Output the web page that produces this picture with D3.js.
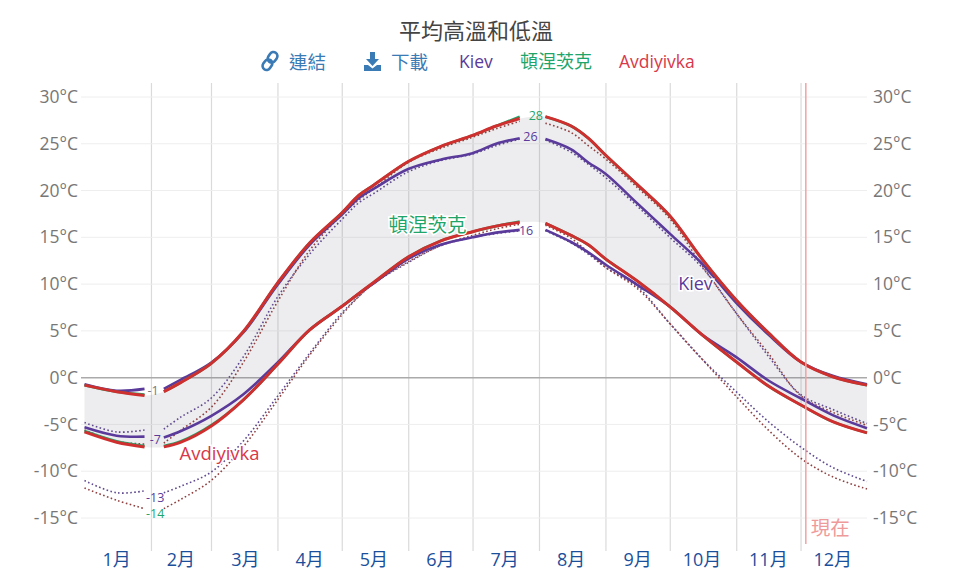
<!DOCTYPE html>
<html>
<head>
<meta charset="utf-8">
<script src="https://cdnjs.cloudflare.com/ajax/libs/d3/7.8.5/d3.min.js"></script>
<style>
  html, body { margin: 0; padding: 0; background: #fff; }
  svg { display: block; }
  text { font-family: "Open Sans", "Noto Sans CJK TC", sans-serif; }
</style>
</head>
<body>
<svg id="chart" width="960" height="579"></svg>
<script>
// day of year for every reading, the null rows are the gaps around the value labels
const days = [0, 15, 28, 32, 37, 45, 59, 74, 90, 105, 120, 128, 135, 151, 166, 181, 192, 203, 209, 215, 227, 235, 243, 258, 273, 288, 304, 319, 334, 349, 365];

const kievHigh = [-0.7, -1.4, -1.2, null, -1.2, -0.2, 1.6, 4.8, 9.9, 14.2, 17.4, 19.2, 20.2, 22.3, 23.3, 24.0, 25.0, 25.6, null, 25.5, 24.4, 23.0, 21.8, 18.6, 15.4, 12.2, 8.0, 4.6, 1.7, 0.2, -0.7];
const kievLow = [-5.3, -6.2, -6.3, null, -6.4, -5.7, -4.1, -1.8, 1.6, 5.1, 7.6, 9.0, 10.1, 12.7, 14.2, 15.0, 15.5, 15.8, null, 15.8, 14.5, 13.4, 12.1, 9.9, 7.6, 4.6, 2.2, -0.3, -2.2, -4.0, -5.4];
const donetskHigh = [-0.8, -1.5, -1.8, null, -1.5, -0.5, 1.5, 4.9, 10.1, 14.4, 17.6, 19.5, 20.6, 23.1, 24.7, 25.9, 26.9, 27.9, null, 27.9, 26.9, 25.6, 23.8, 20.6, 17.3, 12.7, 8.3, 4.8, 1.7, 0.1, -0.8];
const donetskLow = [-5.7, -6.8, -7.3, null, -7.3, -6.8, -5.1, -2.4, 1.4, 5.1, 7.6, 9.0, 10.2, 12.9, 14.6, 15.6, 16.2, 16.7, null, 16.5, 15.2, 14.2, 12.7, 10.3, 7.6, 4.6, 1.7, -0.9, -2.9, -4.7, -5.9];
const avdiyivkaHigh = [-0.8, -1.5, -1.9, null, -1.5, -0.5, 1.5, 4.9, 10.1, 14.4, 17.6, 19.5, 20.6, 23.1, 24.7, 25.9, 26.9, 27.7, null, 27.9, 26.9, 25.6, 23.8, 20.6, 17.3, 12.7, 8.3, 4.8, 1.7, 0.1, -0.8];
const avdiyivkaLow = [-5.8, -6.9, -7.4, null, -7.4, -6.9, -5.2, -2.4, 1.4, 5.1, 7.6, 9.0, 10.2, 12.9, 14.6, 15.6, 16.2, 16.6, null, 16.5, 15.2, 14.2, 12.7, 10.3, 7.6, 4.6, 1.7, -0.9, -2.9, -4.7, -5.9];

// dotted lines
const kievDotHigh = [-4.8, -5.8, -5.6, null, -5.5, -4.2, -2.2, 2.2, 8.6, 13.2, 16.9, 18.7, 19.7, 22.0, 23.2, 23.9, 24.8, 25.5, null, 25.4, 24.1, 22.8, 21.4, 18.3, 15.0, 11.8, 6.9, 2.3, -1.8, -3.4, -4.9];
const kievDotLow = [-11.0, -12.3, -12.1, null, -12.3, -11.6, -10.1, -6.8, -2.0, 2.6, 6.9, 8.7, 10.1, 12.3, 14.1, 15.0, 15.4, 15.7, null, 15.7, 14.4, 13.2, 11.8, 9.7, 5.8, 2.0, -1.5, -4.7, -7.4, -9.6, -11.1];
const avdiyivkaDotHigh = [-5.6, -6.8, -7.1, null, -7.0, -5.6, -3.2, 1.6, 8.1, 13.6, 17.4, 19.0, 20.2, 23.0, 24.5, 25.7, 26.6, 27.4, null, 27.2, 26.2, 24.8, 23.4, 20.3, 17.0, 12.0, 6.9, 2.6, -1.9, -3.7, -5.1];
const avdiyivkaDotLow = [-11.8, -13.1, -14.0, null, -14.0, -13.0, -11.0, -7.4, -2.4, 2.4, 6.7, 8.7, 10.1, 12.4, 14.1, 15.2, 15.9, 16.4, null, 16.3, 14.9, 13.4, 11.8, 9.5, 5.8, 2.0, -2.0, -5.6, -8.6, -10.6, -11.9];

const monthStarts = [31, 59, 90, 120, 151, 181, 212, 243, 273, 304, 334];
const monthCenters = [15, 45, 75, 105, 135, 166, 196, 227, 258, 288, 319, 349];
const monthNames = ["1月", "2月", "3月", "4月", "5月", "6月", "7月", "8月", "9月", "10月", "11月", "12月"];
const tempTicks = [-15, -10, -5, 0, 5, 10, 15, 20, 25, 30];
const nowDay = 336;

const legendNames = ["Kiev", "頓涅茨克", "Avdiyivka"];

// value labels sitting in the line gaps
const calloutDays = [32, 33, 33, 33, 210.5, 208, 206];
const calloutTemps = [-1.4, -6.6, -12.8, -14.5, 28.0, 25.8, 15.7];
const calloutTexts = ["-1", "-7", "-13", "-14", "28", "26", "16"];

const purple = "#5a3a9a", green = "#1fa56a", red = "#cf2f2e";
const calloutColors = ["#777", purple, purple, green, green, purple, purple];

const x = d3.scaleLinear().domain([0, 365]).range([84.5, 867]);
const y = d3.scaleLinear().domain([30, -15]).range([97, 518]);

const svg = d3.select("#chart");

// Axes + grid
const gridX = svg.append("g")
  .attr("transform", "translate(0,551)")
  .call(d3.axisBottom(x).tickValues(monthStarts).tickSize(-468).tickFormat(""));
gridX.select(".domain").remove();
gridX.selectAll("line").attr("stroke", "#dadada").attr("stroke-width", 1.2);

const gridY = svg.append("g")
  .attr("transform", "translate(81,0)")
  .call(d3.axisLeft(y).tickValues(tempTicks).tickSize(0).tickPadding(3).tickFormat(d => d + "°C"));
gridY.select(".domain").remove();
gridY.selectAll("text").attr("fill", "#777").attr("font-size", 17.5);

const gridY2 = svg.append("g")
  .attr("transform", "translate(870,0)")
  .call(d3.axisRight(y).tickValues(tempTicks).tickSize(0).tickPadding(3).tickFormat(d => d + "°C"));
gridY2.select(".domain").remove();
gridY2.selectAll("text").attr("fill", "#777").attr("font-size", 17.5);

svg.append("g").selectAll("line")
  .data(tempTicks)
  .join("line")
  .attr("x1", 81).attr("x2", 867)
  .attr("y1", d => y(d)).attr("y2", d => y(d))
  .attr("stroke", d => d === 0 ? "#aaa" : "#eee")
  .attr("stroke-width", d => d === 0 ? 1.5 : 1);

const curve = d3.curveCatmullRom.alpha(0.5);

// Band between the average high and low
const bandRows = days.map((d, i) => ({ day: d, hi: avdiyivkaHigh[i], lo: avdiyivkaLow[i] })).filter(r => r.hi !== null);
svg.append("path")
  .datum(bandRows)
  .attr("fill", "#6b6570")
  .attr("fill-opacity", 0.12)
  .attr("d", d3.area().x(r => x(r.day)).y0(r => y(r.lo)).y1(r => y(r.hi)).curve(curve));

const line = d3.line()
  .defined(r => r.v !== null)
  .x(r => x(r.day))
  .y(r => y(r.v))
  .curve(curve);

function drawSeries(values, color, width, dash) {
  svg.append("path")
    .datum(days.map((d, i) => ({ day: d, v: values[i] })))
    .attr("fill", "none")
    .attr("stroke", color)
    .attr("stroke-width", width)
    .attr("stroke-dasharray", dash || null)
    .attr("d", line);
}

// Dotted lines first
drawSeries(kievDotHigh, "#5f4a8f", 1.6, "1.6 2.4");
drawSeries(kievDotLow, "#5f4a8f", 1.6, "1.6 2.4");
drawSeries(avdiyivkaDotHigh, "#8f4040", 1.6, "1.6 2.4");
drawSeries(avdiyivkaDotLow, "#8f4040", 1.6, "1.6 2.4");

// Solid lines
drawSeries(kievHigh, purple, 2.6);
drawSeries(kievLow, purple, 2.6);
drawSeries(donetskHigh, green, 2.6);
drawSeries(donetskLow, green, 2.6);
drawSeries(avdiyivkaHigh, red, 3);
drawSeries(avdiyivkaLow, red, 3);

// Now marker
svg.append("line")
  .attr("x1", x(nowDay) + 1).attr("x2", x(nowDay) + 1)
  .attr("y1", 83).attr("y2", 544)
  .attr("stroke", "#f0a3a3").attr("stroke-width", 1.5);
svg.append("text")
  .attr("x", x(nowDay) + 6).attr("y", 535)
  .attr("fill", "#ef9a9a").attr("font-size", 19.5)
  .text("現在");

// Month labels
svg.append("g").selectAll("text")
  .data(monthNames)
  .join("text")
  .attr("x", (d, i) => x(monthCenters[i]))
  .attr("y", 566)
  .attr("text-anchor", "middle")
  .attr("fill", "#1a4f9c")
  .attr("font-size", 18)
  .text(d => d);

// Value labels
svg.append("g").selectAll("text")
  .data(calloutTexts)
  .join("text")
  .attr("x", (d, i) => x(calloutDays[i]))
  .attr("y", (d, i) => y(calloutTemps[i]))
  .attr("dy", "0.35em")
  .attr("text-anchor", "middle")
  .attr("fill", (d, i) => calloutColors[i])
  .attr("font-size", 12.5)
  .text(d => d);

// Station names on the chart
function stationLabel(name, day, temp, color, size) {
  svg.append("text")
    .attr("x", x(day)).attr("y", y(temp))
    .attr("dy", "0.35em")
    .attr("text-anchor", "middle")
    .attr("fill", color)
    .attr("font-size", size)
    .attr("stroke", "#fff").attr("stroke-width", 3).attr("paint-order", "stroke")
    .text(name);
}
stationLabel(legendNames[1], 160, 16.3, green, 19.5);
stationLabel(legendNames[0], 285, 10, purple, 18);
stationLabel(legendNames[2], 63, -8.1, "#d8384a", 18.5);

// Title and links
svg.append("text")
  .attr("x", 476).attr("y", 39)
  .attr("text-anchor", "middle")
  .attr("fill", "#444").attr("font-size", 22)
  .text("平均高溫和低溫");

const linkBlue = "#3a7ab5";
const icon = svg.append("g").attr("transform", "translate(270,61) rotate(-55)")
  .attr("fill", "none").attr("stroke", linkBlue).attr("stroke-width", 2.6);
icon.append("rect").attr("x", -10).attr("y", -4).attr("width", 11).attr("height", 8).attr("rx", 4);
icon.append("rect").attr("x", -1).attr("y", -4).attr("width", 11).attr("height", 8).attr("rx", 4);

svg.append("text").attr("x", 289).attr("y", 69).attr("fill", linkBlue).attr("font-size", 18.5).text("連結");

const dl = svg.append("g").attr("fill", linkBlue);
dl.append("path").attr("d", "M370,52h5v7h4l-6.5,7l-6.5,-7h4z");
dl.append("path").attr("d", "M364,65h4l4.5,3.5l4.5,-3.5h4v6h-17z");

svg.append("text").attr("x", 391).attr("y", 69).attr("fill", linkBlue).attr("font-size", 18.5).text("下載");

const legendX = [459, 520, 619];
const legendColors = [purple, green, "#d8384a"];
svg.append("g").selectAll("text")
  .data(legendNames)
  .join("text")
  .attr("x", (d, i) => legendX[i])
  .attr("y", 68)
  .attr("fill", (d, i) => legendColors[i])
  .attr("font-size", (d, i) => i === 1 ? 18 : 17.5)
  .text(d => d);
</script>
</body>
</html>
